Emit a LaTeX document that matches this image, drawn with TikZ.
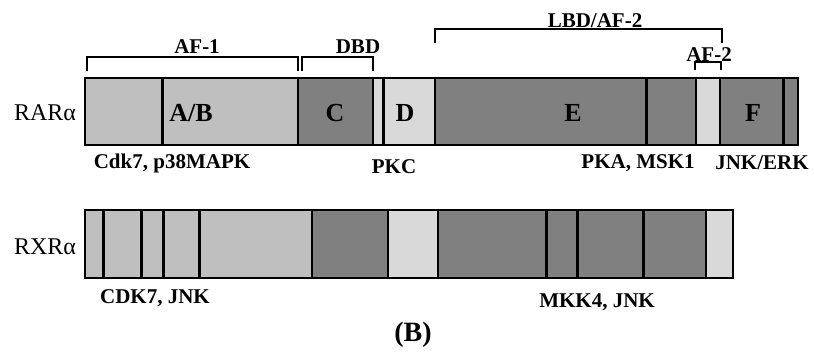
\documentclass[tikz,border=0pt]{standalone}
\usepackage{fontspec}
\setmainfont{Liberation Serif}
\definecolor{domlight}{gray}{0.75}
\definecolor{dompale}{gray}{0.85}
\definecolor{domdark}{gray}{0.5}
\tikzset{
  seg/.style={draw=black, line width=1.2pt},
  sep/.style={line width=3pt},
  brk/.style={line width=1.5pt},
  dom/.style={font=\fontsize{26}{30}\selectfont\bfseries},
  site/.style={font=\fontsize{21}{24}\selectfont\bfseries},
  prot/.style={font=\fontsize{24}{28}\selectfont},
}

\begin{document}
\begin{tikzpicture}[x=1pt,y=1pt]
  \useasboundingbox (0,0) rectangle (814,353);
  % RAR alpha
  \filldraw [seg, fill=domlight] (85,208) rectangle (298,275);
  \filldraw [seg, fill=domdark] (298,208) rectangle (373,275);
  \filldraw [seg, fill=dompale] (373,208) rectangle (383,275);
  \filldraw [seg, fill=dompale] (383,208) rectangle (435,275);
  \filldraw [seg, fill=domdark] (435,208) rectangle (696,275);
  \filldraw [seg, fill=dompale] (696,208) rectangle (720,275);
  \filldraw [seg, fill=domdark] (720,208) rectangle (798,275);
  \foreach \x in {162,383,646,783}
    \draw [sep] (\x,208) -- (\x,275);
  \node (rar) at (45,240) [prot] {RARα};
  \node (ab) at (191,240) [dom] {A/B};
  \node (c) at (335,240) [dom] {C};
  \node (d) at (405,240) [dom] {D};
  \node (e) at (573,240) [dom] {E};
  \node (f) at (753,240) [dom] {F};
  %
  \draw [brk] (87,282) |- (298,296) -- (298,282);
  \draw [brk] (302,282) |- (373,296) -- (373,282);
  \draw [brk] (435,310) |- (722,324) -- (722,310);
  \draw [brk] (695,283) |- (721,291) -- (721,283);
  \node (af1) at (197,306) [site] {AF-1};
  \node (dbd) at (358,306) [site] {DBD};
  \node (lbd) at (595,332) [site] {LBD/AF-2};
  \node (af2) at (709,298) [site] {AF-2};
  %
  \node (cdk) at (172,190) [site] {Cdk7, p38MAPK};
  \node (pkc) at (394,186) [site] {PKC};
  \node (pka) at (638,190) [site] {PKA, MSK1};
  \node (jnk) at (762,190) [site] {JNK/ERK};
  % RXR alpha
  \filldraw [seg, fill=domlight] (85,75) rectangle (312,143);
  \filldraw [seg, fill=domdark] (312,75) rectangle (388,143);
  \filldraw [seg, fill=dompale] (388,75) rectangle (438,143);
  \filldraw [seg, fill=domdark] (438,75) rectangle (706,143);
  \filldraw [seg, fill=dompale] (706,75) rectangle (733,143);
  \foreach \x in {103,141,163,199,546,577,643}
    \draw [sep] (\x,75) -- (\x,143);
  \node (rxr) at (45,106) [prot] {RXRα};
  \node (cdkjnk) at (155,55) [site] {CDK7, JNK};
  \node (mkk) at (597,51) [site] {MKK4, JNK};
  %
  \node (panel) at (413,18) [font=\fontsize{28}{32}\selectfont\bfseries] {(B)};
\end{tikzpicture}
\end{document}
